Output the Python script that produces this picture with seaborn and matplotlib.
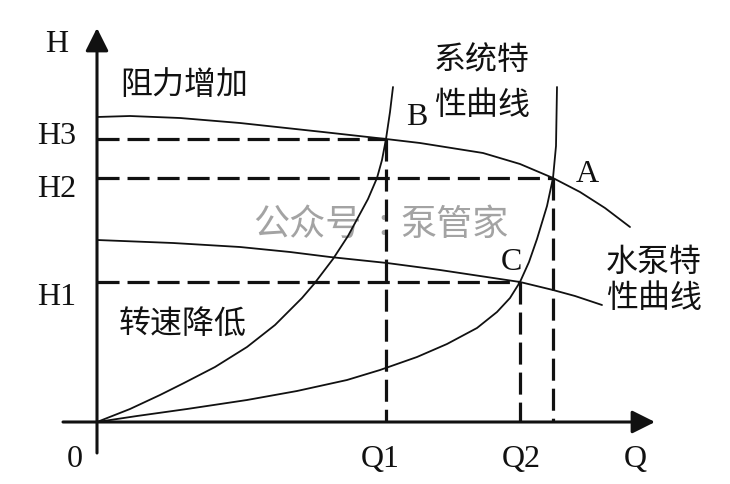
import matplotlib
matplotlib.use("Agg")
import matplotlib.pyplot as plt
import seaborn as sns
import pandas as pd

# ---- data (arbitrary units) ----
pump_high_q = [0, 3.3, 8.3, 14.3, 22.6, 28.9, 32.3, 38.6, 42.3, 45.6, 48.3, 50.8, 53.3]
pump_high_h = [30.5, 30.6, 30.4, 29.9, 29.0, 28.3, 27.9, 26.9, 25.8, 24.4, 23.0, 21.4, 19.5]

pump_low_q = [0, 7.6, 14.3, 19.3, 23.3, 29.0, 34.3, 38.3, 42.3, 45.6, 47.8, 50.5]
pump_low_h = [18.2, 17.9, 17.5, 17.0, 16.5, 15.9, 15.2, 14.6, 14.0, 13.2, 12.6, 11.7]

sys_steep_q = [0, 3.3, 6.3, 8.7, 11.8, 15.0, 17.8, 20.5, 21.7, 23.6, 25.1, 27.1, 28.0, 28.5, 28.9, 29.3, 29.6]
sys_steep_h = [0, 1.3, 2.7, 3.9, 5.5, 7.5, 9.7, 12.4, 13.8, 16.3, 18.6, 22.3, 24.4, 26.2, 28.3, 31.0, 33.5]

sys_flat_q = [0, 4.0, 9.0, 15.0, 20.0, 25.0, 28.3, 32.0, 35.0, 38.0, 40.0, 41.3, 42.3, 43.2, 44.0, 45.0, 45.6, 45.9, 46.0]
sys_flat_h = [0, 0.6, 1.3, 2.2, 3.1, 4.2, 5.2, 6.5, 7.8, 9.4, 11.0, 12.4, 14.0, 16.0, 18.3, 21.6, 24.4, 27.6, 33.5]

# operating points
point_names = ["B", "A", "C"]
point_q = [28.9, 45.6, 42.3]
point_h = [28.3, 24.4, 14.0]

h_labels = ["H3", "H2", "H1"]
q_labels = ["Q1", "Q2"]

# ---- style ----
sns.set_style("white")
plt.rcParams["font.family"] = ["Noto Sans CJK SC", "DejaVu Sans"]
CJK = ["Noto Sans CJK SC", "DejaVu Sans"]
SERIF = ["Liberation Serif", "DejaVu Serif"]

fig = plt.figure(figsize=(7.3, 4.84), dpi=100)
ax = fig.add_axes([0, 0, 1, 1])
ax.set_xlim(-9.7, 63.3)
ax.set_ylim(-6.2, 42.2)
ax.axis("off")

# watermark (drawn first, below lines)
wm = "#a3a3a3"
ax.text(21.0, 19.7, "公众号", family=CJK, fontsize=26, ha="center", va="center", color=wm, zorder=0)
ax.text(28.6, 19.7, ":", family=CJK, fontsize=26, ha="center", va="center", color=wm, zorder=0)
ax.text(35.8, 19.7, "泵管家", family=CJK, fontsize=26, ha="center", va="center", color=wm, zorder=0)

# curves
frames = []
for name, q, h in [("pump_high", pump_high_q, pump_high_h),
                   ("pump_low", pump_low_q, pump_low_h),
                   ("sys_steep", sys_steep_q, sys_steep_h),
                   ("sys_flat", sys_flat_q, sys_flat_h)]:
    frames.append(pd.DataFrame({"Q": q, "H": h, "curve": name}))
df = pd.concat(frames, ignore_index=True)
sns.lineplot(data=df, x="Q", y="H", units="curve", estimator=None, sort=False,
             color="#111111", linewidth=1.3, ax=ax, legend=False)

# dashed guide lines
dash = (0, (6.9, 2.5))
for q, h in zip(point_q, point_h):
    ax.plot([0, q], [h, h], color="#111111", lw=2.3, linestyle=dash, dash_capstyle="butt")
    ax.plot([q, q], [h, 0], color="#111111", lw=2.3, linestyle=dash, dash_capstyle="butt")

# axes with arrows
arrow = dict(arrowstyle="-|>,head_length=1.0,head_width=0.5", lw=2.2, color="#111111",
             shrinkA=0, shrinkB=0, mutation_scale=14)
ax.annotate("", xy=(0, 39.4), xytext=(0, -3.1), arrowprops=arrow)
ax.annotate("", xy=(55.8, 0), xytext=(-3.4, 0), arrowprops=arrow)

# serif labels
fs = 23
tc = "#111111"
ax.text(-4.0, 37.0, "H", family=SERIF, fontsize=fs, ha="center", va="baseline", color=tc)
ax.text(-4.0, 27.8, h_labels[0], family=SERIF, fontsize=fs, ha="center", va="baseline", color=tc)
ax.text(-4.0, 22.5, h_labels[1], family=SERIF, fontsize=fs, ha="center", va="baseline", color=tc)
ax.text(-4.0, 11.7, h_labels[2], family=SERIF, fontsize=fs, ha="center", va="baseline", color=tc)
ax.text(-2.2, -4.5, "0", family=SERIF, fontsize=fs, ha="center", va="baseline", color=tc)
ax.text(28.3, -4.5, q_labels[0], family=SERIF, fontsize=fs, ha="center", va="baseline", color=tc)
ax.text(42.4, -4.5, q_labels[1], family=SERIF, fontsize=fs, ha="center", va="baseline", color=tc)
ax.text(53.8, -4.5, "Q", family=SERIF, fontsize=fs, ha="center", va="baseline", color=tc)
ax.text(32.0, 29.7, point_names[0], family=SERIF, fontsize=fs, ha="center", va="baseline", color=tc)
ax.text(49.0, 24.0, point_names[1], family=SERIF, fontsize=fs, ha="center", va="baseline", color=tc)
ax.text(41.4, 15.2, point_names[2], family=SERIF, fontsize=fs, ha="center", va="baseline", color=tc)

# Chinese labels
cfs = 23
ax.text(8.7, 33.7, "阻力增加", family=CJK, fontsize=cfs, ha="center", va="center", color=tc)
ax.text(38.5, 36.2, "系统特", family=CJK, fontsize=cfs, ha="center", va="center", color=tc)
ax.text(38.5, 31.7, "性曲线", family=CJK, fontsize=cfs, ha="center", va="center", color=tc)
ax.text(55.7, 16.0, "水泵特", family=CJK, fontsize=cfs, ha="center", va="center", color=tc)
ax.text(55.7, 12.4, "性曲线", family=CJK, fontsize=cfs, ha="center", va="center", color=tc)
ax.text(8.6, 9.8, "转速降低", family=CJK, fontsize=cfs, ha="center", va="center", color=tc)

fig.savefig("out.png", dpi=100, facecolor="white")
